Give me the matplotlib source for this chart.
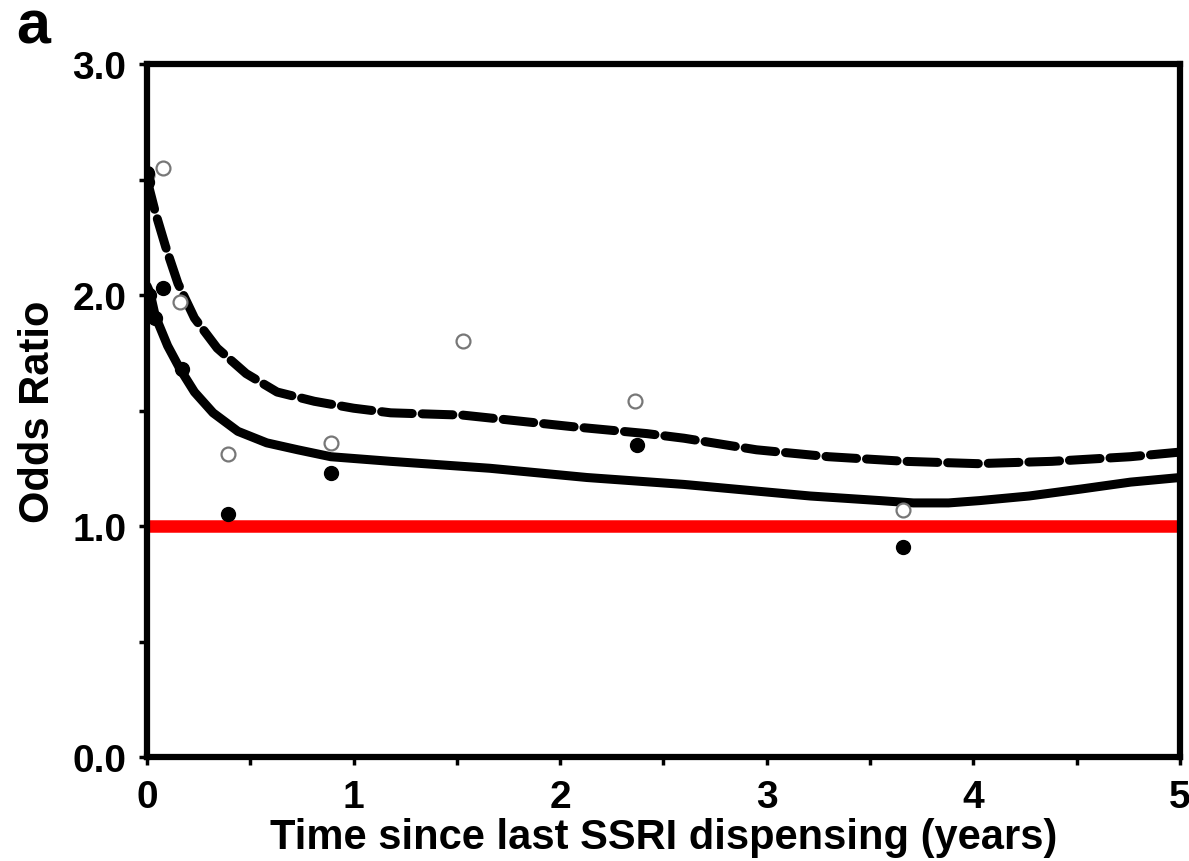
import numpy as np
import matplotlib
matplotlib.use("Agg")
import matplotlib.pyplot as plt
from matplotlib.ticker import MultipleLocator

plt.rcParams['font.family'] = ['Liberation Sans', 'DejaVu Sans']

# curves (years, odds ratio)
dash_x = [0.0, 0.04, 0.09, 0.15, 0.23, 0.34, 0.48, 0.63, 0.81, 1.00, 1.18, 1.53,
          2.06, 2.42, 2.60, 2.95, 3.30, 3.67, 4.02, 4.38, 4.76, 5.0]
dash_y = [2.50, 2.36, 2.21, 2.05, 1.90, 1.77, 1.66, 1.58, 1.54, 1.51, 1.49, 1.48,
          1.43, 1.40, 1.38, 1.33, 1.30, 1.28, 1.27, 1.28, 1.30, 1.32]

solid_x = [0.0, 0.015, 0.04, 0.10, 0.16, 0.23, 0.32, 0.44, 0.58, 0.73, 0.89, 1.18,
           1.66, 2.13, 2.60, 3.21, 3.55, 3.71, 3.88, 4.03, 4.27, 4.52, 4.76, 5.0]
solid_y = [2.04, 2.01, 1.91, 1.78, 1.68, 1.58, 1.49, 1.41, 1.36, 1.33, 1.30, 1.28,
           1.25, 1.21, 1.18, 1.13, 1.11, 1.10, 1.10, 1.11, 1.13, 1.16, 1.19, 1.21]

# observed points
open_x = [0.0, 0.08, 0.16, 0.39, 0.89, 1.53, 2.36, 3.66]
open_y = [2.52, 2.55, 1.97, 1.31, 1.36, 1.80, 1.54, 1.07]
fill_x = [0.0, 0.0, 0.01, 0.08, 0.04, 0.17, 0.39, 0.89, 2.37, 3.66]
fill_y = [2.53, 2.49, 2.00, 2.03, 1.90, 1.68, 1.05, 1.23, 1.35, 0.91]

ref_level = 1.0

fig = plt.figure(figsize=(11.89, 8.62), dpi=100)
ax = fig.add_axes([0.1236, 0.1206, 0.8688, 0.8040])

ax.axhline(ref_level, color='#ff0000', lw=9, zorder=2)
ax.plot(dash_x, dash_y, color='black', lw=6.5, dashes=(3.4, 1.1),
        dash_capstyle='round', dash_joinstyle='round', zorder=3)
ax.plot(solid_x, solid_y, color='black', lw=6.5, solid_joinstyle='round',
        solid_capstyle='round', zorder=3)
ax.plot(open_x, open_y, 'o', ms=10, mfc='white', mec='#777777', mew=1.6, zorder=4)
ax.plot(fill_x, fill_y, 'o', ms=10, mfc='black', mec='black', zorder=5)

ax.set_xlim(0, 5)
ax.set_ylim(0, 3)
ax.xaxis.set_major_locator(MultipleLocator(1))
ax.xaxis.set_minor_locator(MultipleLocator(0.5))
ax.yaxis.set_major_locator(MultipleLocator(1))
ax.yaxis.set_minor_locator(MultipleLocator(0.5))
ax.set_yticks([0, 1, 2, 3])
ax.set_yticklabels(['0.0', '1.0', '2.0', '3.0'])

for sp in ax.spines.values():
    sp.set_linewidth(4.5)
ax.tick_params(which='both', direction='out', length=6, width=2.5,
               top=False, right=False)
ax.tick_params(axis='x', which='major', labelsize=28, pad=10)
ax.tick_params(axis='y', which='major', labelsize=28, pad=9)
for lab in ax.get_xticklabels() + ax.get_yticklabels():
    lab.set_fontweight('bold')

ax.set_xlabel('Time since last SSRI dispensing (years)', fontsize=30,
              fontweight='bold', labelpad=1)
ax.set_ylabel('Odds Ratio', fontsize=30, fontweight='bold', labelpad=10)

fig.text(0.014, 0.950, 'a', fontsize=44, fontweight='bold', va='baseline')

fig.savefig('out.png', dpi=100)
